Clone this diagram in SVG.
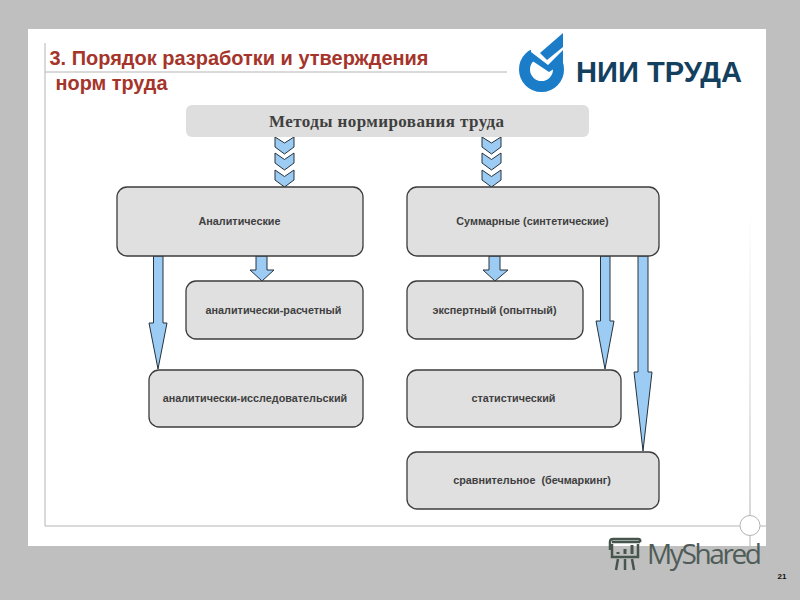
<svg xmlns="http://www.w3.org/2000/svg" width="800" height="600" viewBox="0 0 800 600">
<defs>
<linearGradient id="fade" gradientUnits="userSpaceOnUse" x1="750" y1="210" x2="750" y2="500">
<stop offset="0" stop-color="#b4b4b4" stop-opacity="0"/>
<stop offset="1" stop-color="#b4b4b4"/>
</linearGradient>
</defs>
<style>
.box{fill:#e0e0e0;stroke:#3c3c3c;stroke-width:1.3}
.lbl{font-family:"Liberation Sans",Arial,sans-serif;font-weight:bold;font-size:10.8px;fill:#3f3f3f;text-anchor:middle}
.arrow{fill:#9cccf4;stroke:#26323c;stroke-width:1}
.rule{stroke:#b4b4b4;stroke-width:1;fill:none}
.title{font-family:"Liberation Sans",Arial,sans-serif;font-weight:bold;font-size:20px;fill:#a5352b}
</style>
<rect width="800" height="600" fill="#bfbfbf"/>
<rect x="28" y="29" width="738" height="517" fill="#fff"/>
<g id="frame">
<path class="rule" d="M45 43V526M45 72H507M45 526H766"/>
<path d="M750 210V546" fill="none" stroke="url(#fade)" stroke-width="1"/>
<circle cx="750" cy="525.500" r="10" fill="#fff" stroke="#b4b4b4"/>
</g>
<g id="title">
<text class="title" x="49.500" y="65" textLength="379" lengthAdjust="spacingAndGlyphs">3. Порядок разработки и утверждения</text>
<text class="title" x="55.500" y="90" textLength="112" lengthAdjust="spacingAndGlyphs">норм труда</text>
</g>
<g id="logo">
<circle cx="541.500" cy="69.500" r="17" fill="none" stroke="#1b7cc8" stroke-width="11"/>
<path fill="#fff" d="M531 40H566V53L549 66L531 53Z"/>
<path fill="#1b7cc8" d="M563 33V47L547 60L540 53Z"/>
<path fill="#1b7cc8" d="M563 50V63L549 72L531 60V52L548 65Z"/>
<text x="576" y="82" font-family="'Liberation Sans',Arial,sans-serif" font-weight="bold" font-size="30" fill="#14405f" textLength="166" lengthAdjust="spacingAndGlyphs">НИИ ТРУДА</text>
</g>
<g id="connectors">
<g id="chev-left" class="arrow">
<path d="M275 137L284.500 143L294 137V147L284.500 154L275 147Z"/>
<path d="M275 153L284.500 159.500L294 153V163L284.500 170L275 163Z"/>
<path d="M275 170L284.500 176.500L294 170V180L284.500 187L275 180Z"/>
</g>
<g id="chev-right" class="arrow">
<path d="M482 137L491.500 143L501 137V147L491.500 154L482 147Z"/>
<path d="M482 153L491.500 159.500L501 153V163L491.500 170L482 163Z"/>
<path d="M482 170L491.500 176.500L501 170V180L491.500 187L482 180Z"/>
</g>
<path class="arrow" d="M153.500 256H163V323H167L158 369L149 323H153.500Z"/>
<path class="arrow" d="M256 256H267V270H274L262 281L250 270H256Z"/>
<path class="arrow" d="M489 256H500V270H508L495 281L483 270H489Z"/>
<path class="arrow" d="M600.500 256H610V321H614L605 369L596 321H600.500Z"/>
<path class="arrow" d="M638 256H648V372H652L643 451L634 372H638Z"/>
</g>
<g id="n-root">
<rect x="186" y="105" width="403" height="32" rx="6" fill="#dedede"/>
<text x="269" y="127" font-family="'Liberation Serif','Times New Roman',serif" font-weight="bold" font-size="17" fill="#404040" textLength="235">Методы нормирования труда</text>
</g>
<g id="n-analytic">
<rect class="box" x="117" y="187" width="246" height="69" rx="10"/>
<text class="lbl" x="239.500" y="225">Аналитические</text>
</g>
<g id="n-summary">
<rect class="box" x="407" y="187" width="252" height="69" rx="10"/>
<text class="lbl" x="532.500" y="225">Суммарные (синтетические)</text>
</g>
<g id="n-calc">
<rect class="box" x="186" y="281" width="177" height="58" rx="10"/>
<text class="lbl" x="273.500" y="314">аналитически-расчетный</text>
</g>
<g id="n-research">
<rect class="box" x="149" y="370" width="214" height="57" rx="10"/>
<text class="lbl" x="255" y="402">аналитически-исследовательский</text>
</g>
<g id="n-expert">
<rect class="box" x="407" y="281" width="176" height="58" rx="10"/>
<text class="lbl" x="494.500" y="314">экспертный (опытный)</text>
</g>
<g id="n-stat">
<rect class="box" x="407" y="370" width="214" height="57" rx="10"/>
<text class="lbl" x="513.500" y="402">статистический</text>
</g>
<g id="n-bench">
<rect class="box" x="407" y="452" width="252" height="57" rx="10"/>
<text class="lbl" x="532" y="484" xml:space="preserve">сравнительное  (бечмаркинг)</text>
</g>
<g id="watermark" fill="none" stroke="#46564f" stroke-width="2.500">
<path d="M612 544V557H638V544M612 542H640M610 550V542Q610 539 613 539H638Q641 539 640 542M618 559L616 570M625 559V570M632 559L634 570"/>
<path d="M618 554V552M625 554V549M632 554V545" stroke-width="3"/>
<text x="647" y="564" font-family="'Open Sans','Noto Sans',sans-serif" font-size="28" fill="#4f5c58" stroke="none" textLength="115">MyShared</text>
</g>
<text x="782" y="579" text-anchor="middle" font-family="'Liberation Sans',Arial,sans-serif" font-weight="bold" font-size="8" fill="#111">21</text>
</svg>
